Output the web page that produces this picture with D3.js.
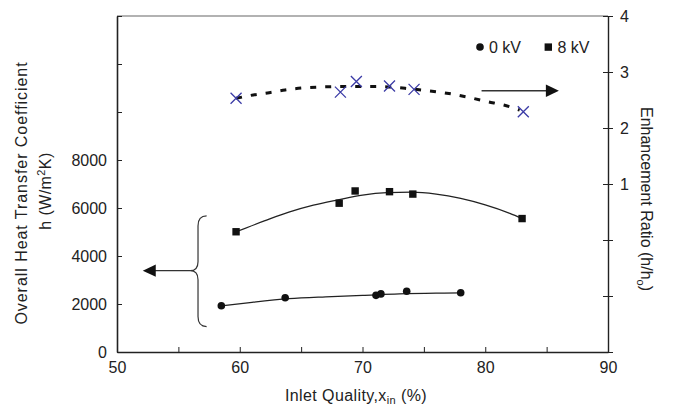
<!DOCTYPE html>
<html>
<head>
<meta charset="utf-8">
<script src="https://cdn.jsdelivr.net/npm/d3@7"></script>
<style>
  html, body { margin: 0; padding: 0; background: #fff; }
  svg { display: block; font-family: "Liberation Sans", Arial, Helvetica, sans-serif; }
  .axis text { font-size: 16px; fill: #222; }
  .axis path, .axis line { stroke: #222; }
</style>
</head>
<body>
<svg id="chart" width="675" height="407"></svg>
<script>
// Inlet quality (%) and overall heat transfer coefficient h (W/m²K)
const q0kV = [58.5, 63.7, 71.1, 71.5, 73.6, 78.0];
const h0kV = [1930, 2260, 2360, 2420, 2530, 2470];
const q8kV = [59.7, 68.1, 69.4, 72.2, 74.1, 83.0];
const h8kV = [5010, 6200, 6710, 6680, 6580, 5560];

// Trend lines through each data set
const fit0kVQ = [58.5, 61, 64, 67, 70, 73, 76, 78];
const fit0kVH = [1920, 2070, 2220, 2300, 2360, 2420, 2450, 2460];
const fit8kVQ = [59.7, 62, 64, 66, 68, 70, 72, 74, 76, 78, 80, 82, 83];
const fit8kVH = [5010, 5460, 5830, 6120, 6340, 6540, 6640, 6660, 6580, 6400, 6130, 5780, 5570];

// Enhancement ratio h/h0
const qRatio = [59.7, 68.2, 69.5, 72.2, 74.2, 83.1];
const ratio = [2.53, 2.64, 2.83, 2.75, 2.69, 2.29];
const fitRatioQ = [59.7, 61.1, 62.4, 63.7, 66.3, 68.7, 71.3, 73.9, 75.2, 76.3, 77.7, 79.0, 80.2, 81.5, 82.8];
const fitRatio = [2.53, 2.59, 2.63, 2.68, 2.73, 2.74, 2.74, 2.70, 2.67, 2.64, 2.59, 2.53, 2.47, 2.41, 2.32];

// Axis ticks
const xTicks = [50, 55, 60, 65, 70, 75, 80, 85, 90];
const xLabels = [50, 60, 70, 80, 90];
const hTicks = [0, 2000, 4000, 6000, 8000, 10000, 12000, 14000];
const hLabels = [0, 2000, 4000, 6000, 8000];
const rTicks = [-2, -1, 0, 1, 2, 3, 4];
const rLabels = [1, 2, 3, 4];

const svg = d3.select("#chart");
const plotL = 117, plotR = 608, plotT = 16, plotB = 352;

const x = d3.scaleLinear().domain([50, 90]).range([plotL, plotR]);
const yH = d3.scaleLinear().domain([0, 14000]).range([plotB, plotT]);
const yR = d3.scaleLinear().domain([-2, 4]).range([plotB, plotT]);

// Frame top edge
svg.append("line")
  .attr("x1", plotL).attr("x2", plotR).attr("y1", plotT).attr("y2", plotT)
  .attr("stroke", "#666").attr("stroke-width", 1.2);

// Bottom axis
svg.append("g").attr("class", "axis")
  .attr("transform", `translate(0,${plotB})`)
  .call(d3.axisBottom(x).tickValues(xTicks).tickSize(-5).tickSizeOuter(0).tickPadding(10)
    .tickFormat(d => xLabels.includes(d) ? d : ""))
  .call(g => g.select(".domain").attr("stroke-width", 1.5));

// Left axis
svg.append("g").attr("class", "axis")
  .attr("transform", `translate(${plotL},0)`)
  .call(d3.axisLeft(yH).tickValues(hTicks).tickSize(-5).tickSizeOuter(0).tickPadding(10)
    .tickFormat(d => hLabels.includes(d) ? d : ""))
  .call(g => g.select(".domain").attr("stroke-width", 1.6));

// Right axis, ticks cross the spine
svg.append("g").attr("class", "axis")
  .attr("transform", `translate(${plotR},0)`)
  .call(d3.axisRight(yR).tickValues(rTicks).tickSize(5).tickSizeOuter(0).tickPadding(7)
    .tickFormat(d => rLabels.includes(d) ? d : ""))
  .call(g => g.select(".domain").attr("stroke-width", 1.4))
  .call(g => g.selectAll(".tick").append("line").attr("x1", -5).attr("x2", 0).attr("stroke", "#222"));

// Trend lines
const lineH = d3.line().x(d => x(d[0])).y(d => yH(d[1])).curve(d3.curveMonotoneX);
const lineR = d3.line().x(d => x(d[0])).y(d => yR(d[1])).curve(d3.curveMonotoneX);

svg.append("path").datum(d3.zip(fit8kVQ, fit8kVH))
  .attr("d", lineH).attr("fill", "none").attr("stroke", "#222").attr("stroke-width", 1.3);
svg.append("path").datum(d3.zip(fit0kVQ, fit0kVH))
  .attr("d", lineH).attr("fill", "none").attr("stroke", "#222").attr("stroke-width", 1.3);
svg.append("path").datum(d3.zip(fitRatioQ, fitRatio))
  .attr("d", lineR).attr("fill", "none").attr("stroke", "#111").attr("stroke-width", 3)
  .attr("stroke-dasharray", "6,9");

// 0 kV markers
svg.append("g").selectAll("circle").data(d3.zip(q0kV, h0kV)).join("circle")
  .attr("cx", d => x(d[0])).attr("cy", d => yH(d[1])).attr("r", 3.8).attr("fill", "#111");

// 8 kV markers
svg.append("g").selectAll("rect").data(d3.zip(q8kV, h8kV)).join("rect")
  .attr("x", d => x(d[0]) - 3.7).attr("y", d => yH(d[1]) - 3.7)
  .attr("width", 7.4).attr("height", 7.4).attr("fill", "#111");

// Enhancement ratio markers
const xs = 5.5;
svg.append("g").selectAll("path").data(d3.zip(qRatio, ratio)).join("path")
  .attr("d", d => {
    const cx = x(d[0]), cy = yR(d[1]);
    return `M${cx - xs},${cy - xs}L${cx + xs},${cy + xs}M${cx - xs},${cy + xs}L${cx + xs},${cy - xs}`;
  })
  .attr("fill", "none").attr("stroke", "#3b3ba6").attr("stroke-width", 1.3);

// Arrow pointing to the right axis
const rArrow = { q0: 79.7, q1: 86.0, r: 2.665 };
svg.append("line")
  .attr("x1", x(rArrow.q0)).attr("x2", x(rArrow.q1) - 12)
  .attr("y1", yR(rArrow.r)).attr("y2", yR(rArrow.r))
  .attr("stroke", "#333").attr("stroke-width", 1.3);
svg.append("path")
  .attr("d", `M${x(rArrow.q1)},${yR(rArrow.r)}L${x(rArrow.q1) - 13},${yR(rArrow.r) - 6.2}L${x(rArrow.q1) - 13},${yR(rArrow.r) + 6.2}Z`)
  .attr("fill", "#111");

// Brace grouping both h curves, arrow pointing to the left axis
const brace = { q: 56.6, qTip: 55.95, qEnd: 57.3, hTop: 5670, hMid: 3390, hBot: 1060 };
const bx = x(brace.q), bt = x(brace.qTip), be = x(brace.qEnd);
const byT = yH(brace.hTop), byM = yH(brace.hMid), byB = yH(brace.hBot);
svg.append("path")
  .attr("d", `M${be},${byT}Q${bx},${byT} ${bx},${byT + 10}L${bx},${byM - 9}Q${bx},${byM} ${bt},${byM}` +
             `Q${bx},${byM} ${bx},${byM + 9}L${bx},${byB - 10}Q${bx},${byB} ${be},${byB}`)
  .attr("fill", "none").attr("stroke", "#333").attr("stroke-width", 1.2);

const lArrow = { q0: 55.95, q1: 52.1, h: 3390 };
svg.append("line")
  .attr("x1", x(lArrow.q0)).attr("x2", x(lArrow.q1) + 12)
  .attr("y1", yH(lArrow.h)).attr("y2", yH(lArrow.h))
  .attr("stroke", "#333").attr("stroke-width", 1.3);
svg.append("path")
  .attr("d", `M${x(lArrow.q1)},${yH(lArrow.h)}L${x(lArrow.q1) + 13},${yH(lArrow.h) - 6.2}L${x(lArrow.q1) + 13},${yH(lArrow.h) + 6.2}Z`)
  .attr("fill", "#111");

// Legend
const legend = svg.append("g").attr("font-size", 16).attr("fill", "#222");
legend.append("circle").attr("cx", 480).attr("cy", 47).attr("r", 3.8).attr("fill", "#111");
legend.append("text").attr("x", 489).attr("y", 52.5).text("0 kV");
legend.append("rect").attr("x", 544.6).attr("y", 43.4).attr("width", 7.4).attr("height", 7.4).attr("fill", "#111");
legend.append("text").attr("x", 557.5).attr("y", 52.5).text("8 kV");

// Axis titles
const xt = svg.append("text").attr("x", 356).attr("y", 401).attr("text-anchor", "middle")
  .attr("font-size", 16).attr("letter-spacing", 0.4).attr("fill", "#222");
xt.append("tspan").text("Inlet Quality,x");
xt.append("tspan").attr("font-size", 11).attr("dy", 3).text("in");
xt.append("tspan").attr("dy", -3).text(" (%)");

const yt = svg.append("g").attr("transform", "translate(27,193) rotate(-90)")
  .attr("font-size", 16).attr("fill", "#222");
yt.append("text").attr("text-anchor", "middle").attr("y", 0).attr("letter-spacing", 0.95)
  .text("Overall Heat Transfer Coefficient");
const yt2 = yt.append("text").attr("text-anchor", "middle").attr("x", 2).attr("y", 24)
  .attr("letter-spacing", 0.4);
yt2.append("tspan").text("h (W/m");
yt2.append("tspan").attr("font-size", 11).attr("dy", -6).text("2");
yt2.append("tspan").attr("dy", 6).text("K)");

const rt = svg.append("text").attr("transform", "translate(641,199) rotate(90)")
  .attr("text-anchor", "middle").attr("font-size", 16).attr("fill", "#222");
rt.append("tspan").text("Enhancement Ratio (h/h");
rt.append("tspan").attr("font-size", 11).attr("dy", 4).text("o");
rt.append("tspan").attr("dy", -4).text(")");
</script>
</body>
</html>
